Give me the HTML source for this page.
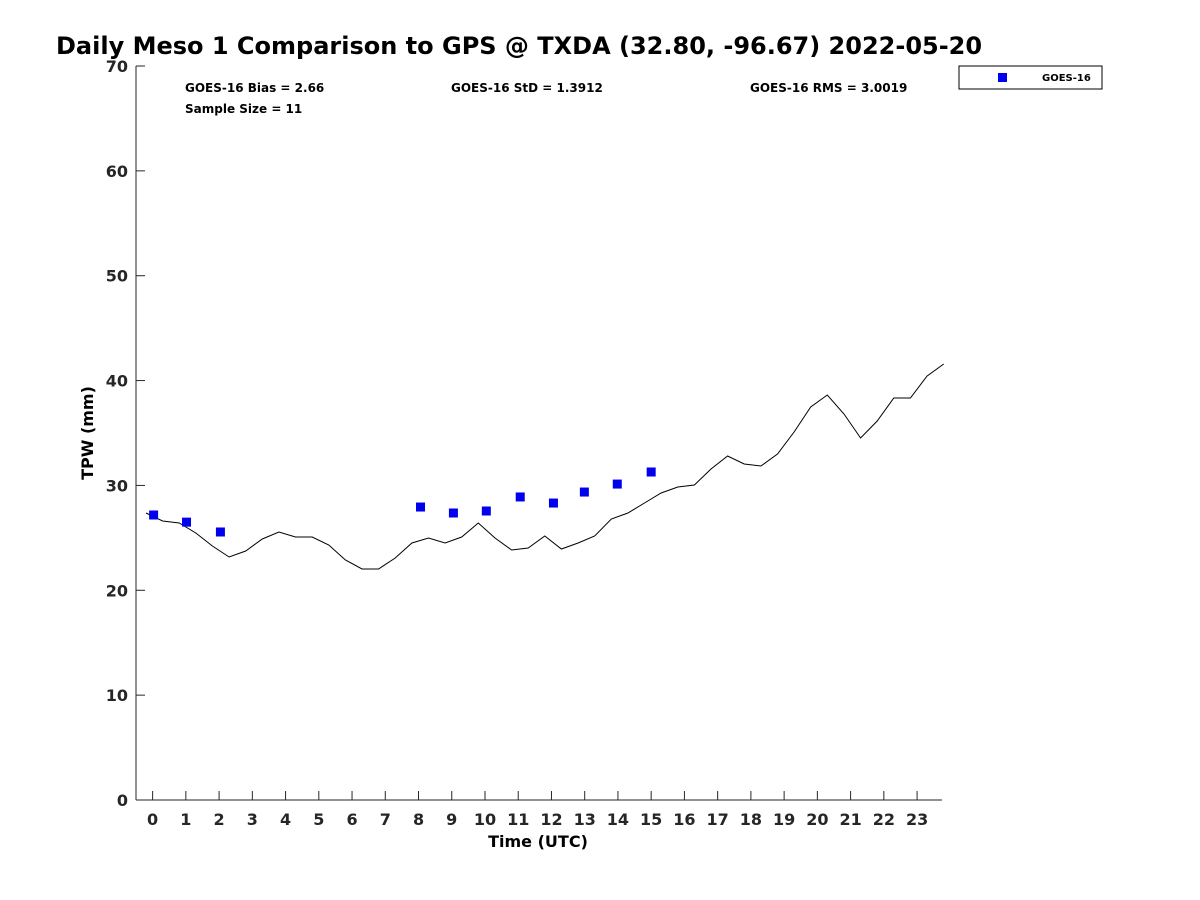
<!DOCTYPE html>
<html><head><meta charset="utf-8">
<style>
body{margin:0;background:#fff;}
svg{display:block;font-family:"DejaVu Sans","Liberation Sans",sans-serif;}
</style></head>
<body>
<svg id="chart" width="1200" height="900" viewBox="0 0 1200 900" xmlns="http://www.w3.org/2000/svg">
<rect width="1200" height="900" fill="#fff"/>
<text x="56" y="54" font-size="24" font-weight="bold" fill="#000">Daily Meso 1 Comparison to GPS @ TXDA (32.80, -96.67) 2022-05-20</text>
<g id="axes"></g>
<g id="series"></g>
<text x="185" y="92" font-size="12" font-weight="bold">GOES-16 Bias = 2.66</text>
<text x="185" y="113" font-size="12" font-weight="bold">Sample Size = 11</text>
<text x="451" y="92" font-size="12" font-weight="bold">GOES-16 StD = 1.3912</text>
<text x="750" y="92" font-size="12" font-weight="bold">GOES-16 RMS = 3.0019</text>
<g>
<rect x="959" y="66" width="143" height="23" fill="#fff" stroke="#000" stroke-width="1"/>
<rect x="998" y="73" width="9" height="9" fill="#0000ee"/>
<text x="1042" y="81" font-size="10" font-weight="bold">GOES-16</text>
</g>
<text x="538" y="847" font-size="16" font-weight="bold" text-anchor="middle">Time (UTC)</text>
<text transform="translate(93,433) rotate(-90)" font-size="16" font-weight="bold" text-anchor="middle">TPW (mm)</text>
</svg>
<script>
const gpsTimes=[-0.2,0.3,0.8,1.3,1.8,2.3,2.8,3.3,3.8,4.3,4.8,5.3,5.8,6.3,6.8,7.3,7.8,8.3,8.8,9.3,9.8,10.3,10.8,11.3,11.8,12.3,12.8,13.3,13.8,14.3,14.8,15.3,15.8,16.3,16.8,17.3,17.8,18.3,18.8,19.3,19.8,20.3,20.8,21.3,21.8,22.3,22.8,23.3,23.8];
const gpsValues=[27.37,26.61,26.42,25.46,24.22,23.17,23.75,24.89,25.56,25.08,25.08,24.32,22.89,22.03,22.03,23.08,24.51,24.99,24.51,25.08,26.42,24.99,23.84,24.03,25.18,23.94,24.51,25.18,26.8,27.37,28.32,29.28,29.85,30.04,31.57,32.81,32.04,31.85,33.0,35.1,37.48,38.62,36.81,34.52,36.14,38.34,38.34,40.43,41.58];
const goesTimes=[0.03,1.02,2.04,8.06,9.05,10.04,11.06,12.06,12.99,13.98,15.0];
const goesValues=[27.18,26.5,25.56,27.94,27.37,27.56,28.9,28.32,29.37,30.13,31.28];
const xTicks=[0,1,2,3,4,5,6,7,8,9,10,11,12,13,14,15,16,17,18,19,20,21,22,23];
const yTicks=[0,10,20,30,40,50,60,70];

const NS="http://www.w3.org/2000/svg";
const X0=136,X1=942,Y0=800,Y1=66;
const xMin=-0.5,xMax=23.75,yMin=0,yMax=70;
function xs(v){return X0+(v-xMin)/(xMax-xMin)*(X1-X0);}
function ys(v){return Y0-(v-yMin)/(yMax-yMin)*(Y0-Y1);}
function mk(tag,attrs,parent){const e=document.createElementNS(NS,tag);for(const k in attrs)e.setAttribute(k,attrs[k]);parent.appendChild(e);return e;}
const axes=document.getElementById('axes'),series=document.getElementById('series');
let e=mk('line',{x1:X0,y1:Y0,x2:X1,y2:Y0,stroke:'#262626','stroke-width':1},axes);


e=mk('line',{x1:X0,y1:Y0,x2:X0,y2:Y1,stroke:'#262626','stroke-width':1},axes);


xTicks.forEach(t=>{
  const x=xs(t);
  let l=mk('line',{x1:x,y1:Y0,x2:x,y2:Y0-9,stroke:'#262626','stroke-width':1},axes);
  
  
  let tx=mk('text',{x:x,y:Y0+25,'font-size':16,'font-weight':'bold','text-anchor':'middle',fill:'#262626'},axes);
  tx.textContent=t;
  
  
});
yTicks.forEach(t=>{
  const y=ys(t);
  let l=mk('line',{x1:X0,y1:y,x2:X0+9,y2:y,stroke:'#262626','stroke-width':1},axes);
  
  
  let tx=mk('text',{x:X0-8,y:y+6,'font-size':16,'font-weight':'bold','text-anchor':'end',fill:'#262626'},axes);
  tx.textContent=t;
  
  
});
const pts=gpsTimes.map((t,i)=>xs(t).toFixed(1)+','+ys(gpsValues[i]).toFixed(1)).join(' ');
let pl=mk('polyline',{points:pts,fill:'none',stroke:'#000','stroke-width':1},series);


goesTimes.forEach((t,i)=>{
  let r=mk('rect',{x:xs(t)-4.5,y:ys(goesValues[i])-4.5,width:9,height:9,fill:'#0000ee'},series);
  
  
});
</script>
</body></html>
